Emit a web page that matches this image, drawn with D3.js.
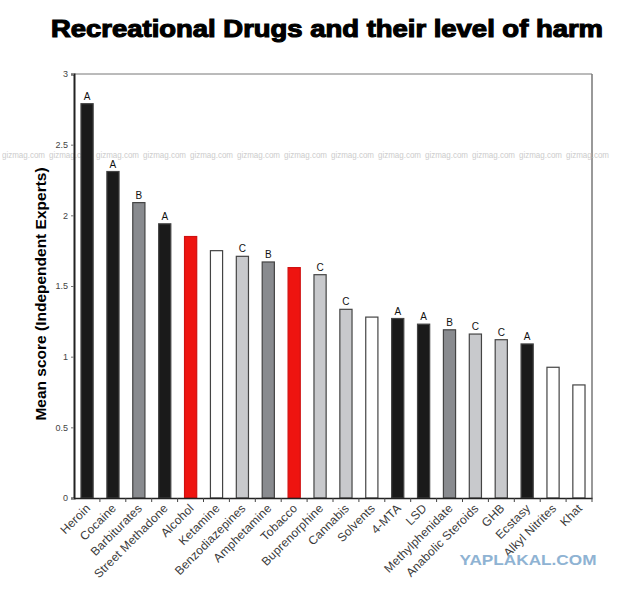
<!DOCTYPE html>
<html><head><meta charset="utf-8">
<script src="https://cdn.jsdelivr.net/npm/d3@7"></script>
<style>body{margin:0;background:#fff}svg{display:block}</style>
</head><body>
<script>
const drugs = ["Heroin","Cocaine","Barbiturates","Street Methadone","Alcohol","Ketamine","Benzodiazepines","Amphetamine","Tobacco","Buprenorphine","Cannabis","Solvents","4-MTA","LSD","Methylphenidate","Anabolic Steroids","GHB","Ecstasy","Alkyl Nitrites","Khat"];
const scores = [2.79,2.31,2.09,1.94,1.85,1.75,1.71,1.67,1.63,1.58,1.335,1.28,1.27,1.23,1.19,1.16,1.12,1.09,0.925,0.80];
const classes = ["A","A","B","A","none","none","C","B","none","C","C","none","A","A","B","C","C","A","none","none"];
const letters = ["A","A","B","A","","","C","B","","C","C","","A","A","B","C","C","A","",""];
const legal = [false,false,false,false,true,false,false,false,true,false,false,false,false,false,false,false,false,false,false,false];
const yTicks = [0,0.5,1,1.5,2,2.5,3];

const W=623,H=589;
const m={l:74,r:31,t:74,b:91};
const svg=d3.select("body").append("svg").attr("width",W).attr("height",H);

const x=d3.scaleBand().domain(drugs).range([m.l,W-m.r]).paddingInner(0.53).paddingOuter(0.27);
const xTick=d3.scaleBand().domain(drugs).range([m.l,W-m.r]);
const y=d3.scaleLinear().domain([0,3]).range([H-m.b,m.t]);

const colorFor=(i)=>{
  if(legal[i]) return "#ee1410";
  const c=classes[i];
  if(c==="A") return "#1a1a1a";
  if(c==="B") return "#898b8f";
  if(c==="C") return "#c8c9cc";
  return "#ffffff";
};

// title
svg.append("text").attr("x",327).attr("y",37).attr("text-anchor","middle")
  .attr("font-family","Liberation Sans, Arial, sans-serif").attr("font-weight","bold")
  .attr("font-size",23).attr("fill","#000").attr("stroke","#000").attr("stroke-width",1.1)
  .attr("textLength",552).attr("lengthAdjust","spacingAndGlyphs")
  .text("Recreational Drugs and their level of harm");

// frame (top/right)
svg.append("line").attr("x1",m.l).attr("x2",W-m.r).attr("y1",m.t).attr("y2",m.t).attr("stroke","#777").attr("stroke-width",1);
svg.append("line").attr("x1",W-m.r).attr("x2",W-m.r).attr("y1",m.t).attr("y2",H-m.b).attr("stroke","#777").attr("stroke-width",1.5);

// watermarks
const wm=svg.append("g").attr("font-family","Liberation Sans, Arial, sans-serif").attr("font-size",9.5)
  .attr("fill","#c4c4c4").attr("opacity",0.85);
d3.range(0,13).forEach(k=>{
  wm.append("text").attr("x",2+k*47).attr("y",158).attr("textLength",43).attr("lengthAdjust","spacingAndGlyphs").text("gizmag.com");
});

// bars
svg.append("g").selectAll("rect").data(drugs).join("rect")
  .attr("x",d=>x(d)).attr("width",x.bandwidth())
  .attr("y",(d,i)=>y(scores[i])).attr("height",(d,i)=>y(0)-y(scores[i]))
  .attr("fill",(d,i)=>colorFor(i))
  .attr("stroke",(d,i)=>legal[i]?"#d01010":"#444").attr("stroke-width",1.2);

// letters
svg.append("g").selectAll("text").data(drugs).join("text")
  .attr("x",d=>x(d)+x.bandwidth()/2).attr("y",(d,i)=>y(scores[i])-4)
  .attr("text-anchor","middle").attr("font-family","Liberation Sans, Arial, sans-serif")
  .attr("font-size",10).attr("fill","#111").text((d,i)=>letters[i]);

// y axis
const yAxis=svg.append("g").attr("transform",`translate(${m.l},0)`)
  .call(d3.axisLeft(y).tickValues(yTicks).tickSize(3).tickFormat(d3.format("")));
yAxis.select(".domain").attr("stroke","#222").attr("stroke-width",2);
yAxis.selectAll(".tick line").attr("stroke","#777");
yAxis.selectAll("text").attr("font-family","Liberation Sans, Arial, sans-serif").attr("font-size",9).attr("fill","#444").attr("x",-6);

// x axis
const xAxis=svg.append("g").attr("transform",`translate(0,${H-m.b})`)
  .call(d3.axisBottom(xTick).tickSize(0).tickFormat(""));
xAxis.select(".domain").attr("stroke","#222").attr("stroke-width",1.5);
xAxis.selectAll(".tick").remove();
svg.append("g").selectAll("line").data(drugs).join("line")
  .attr("x1",d=>xTick(d)+xTick.bandwidth()).attr("x2",d=>xTick(d)+xTick.bandwidth())
  .attr("y1",H-m.b).attr("y2",H-m.b+4).attr("stroke","#444").attr("stroke-width",1);
svg.append("g").selectAll("text").data(drugs).join("text")
  .attr("transform",d=>`translate(${x(d)+x.bandwidth()/2+4},${H-m.b+11}) rotate(-45)`)
  .attr("text-anchor","end").attr("font-family","Liberation Sans, Arial, sans-serif")
  .attr("font-size",12).attr("letter-spacing",0.2).attr("fill","#3a3a3a").text(d=>d);

// y label
svg.append("text").attr("transform",`translate(46,${(m.t+H-m.b)/2+8}) rotate(-90)`)
  .attr("text-anchor","middle").attr("font-family","Liberation Sans, Arial, sans-serif")
  .attr("font-weight","bold").attr("font-size",15.5).attr("fill","#000")
  .text("Mean score (Independent Experts)");

svg.append("text").attr("x",528).attr("y",565).attr("text-anchor","middle")
  .attr("font-family","Liberation Sans, Arial, sans-serif").attr("font-weight","bold")
  .attr("font-size",15).attr("fill","#8fb3d3").attr("textLength",137).attr("lengthAdjust","spacingAndGlyphs")
  .text("YAPLAKAL.COM");
</script>
</body></html>
